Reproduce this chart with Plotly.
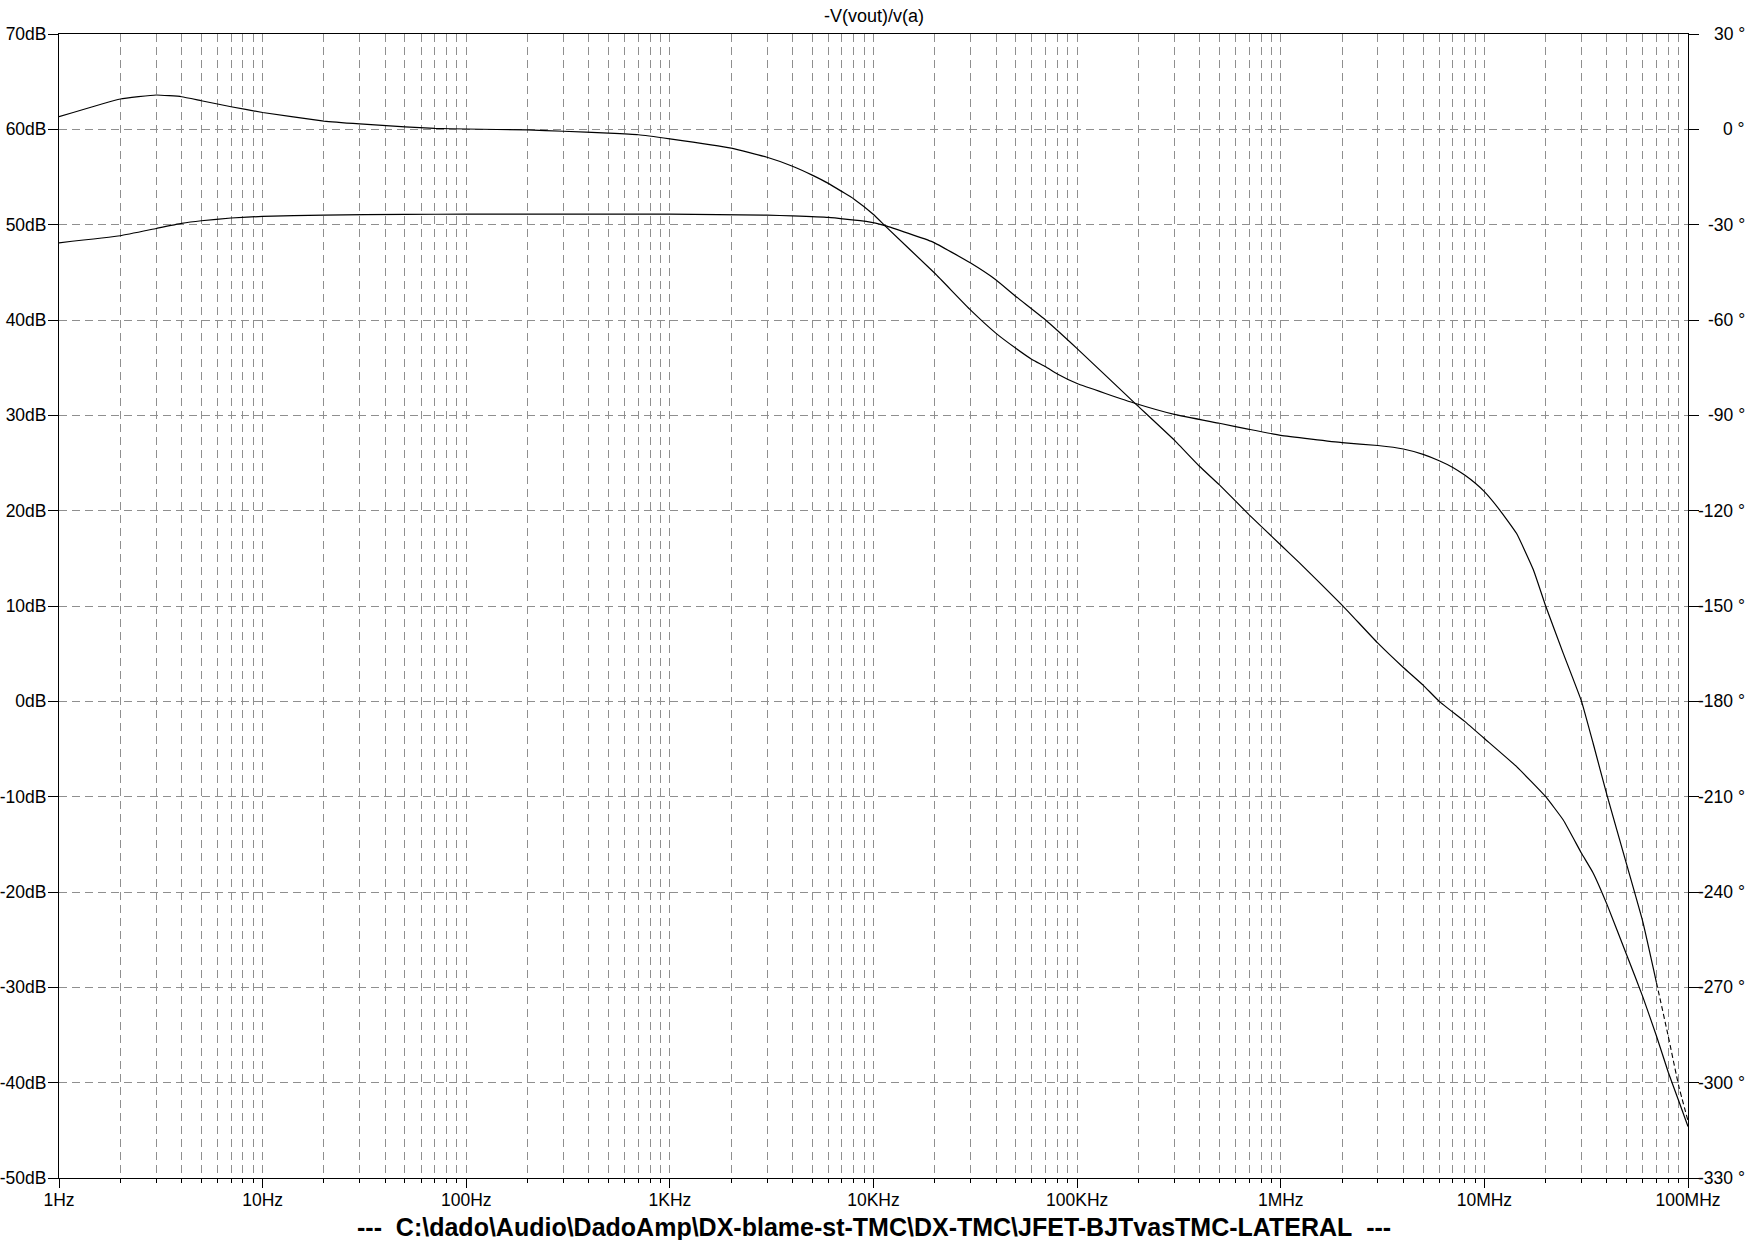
import numpy as np
import plotly.graph_objects as go

# ---------------- data ----------------
mag_freq = [1, 2, 3, 4, 5, 7, 10, 20, 50, 100, 1e3, 3e3, 4e3, 6e3, 9.2e3, 11.4e3,
            19.5e3, 30e3, 40e3, 50e3, 70e3, 100e3, 192e3, 300e3, 400e3, 500e3, 700e3,
            1e6, 1.24e6, 2e6, 3e6, 4e6, 5e6, 6e6, 8e6, 10e6, 14.4e6, 20e6, 24.4e6,
            30e6, 34.2e6, 40e6, 50e6, 60e6, 70e6, 80e6, 90e6, 100e6]
mag_db = [48.1, 48.84, 49.6, 50.13, 50.41, 50.7, 50.87, 51.0, 51.08, 51.1, 51.1, 51.0,
          50.92, 50.76, 50.34, 49.9, 48.2, 45.97, 44.2, 42.47, 40.0, 37.0, 31.28, 27.4,
          24.63, 22.7, 19.56, 16.4, 14.5, 10.1, 6.1, 3.55, 1.7, 0.0, -2.1, -3.9, -6.85,
          -10.0, -12.45, -15.94, -18.0, -21.3, -26.6, -31.0, -35.1, -38.9, -41.9, -44.6]

phase_freq = [1, 2, 3, 4, 5, 7, 10, 20, 30, 50, 70, 100, 200, 300, 500, 700, 1e3, 2e3,
              3e3, 4e3, 5e3, 6e3, 7e3, 8e3, 10e3, 11.4e3, 20e3, 30e3, 40e3, 50e3, 60e3,
              70e3, 80e3, 100e3, 192e3, 300e3, 500e3, 700e3, 1e6, 2e6, 3e6, 4e6, 5e6,
              6e6, 7e6, 8e6, 9e6, 10e6, 11.9e6, 14.4e6, 17.4e6, 20e6, 24.4e6, 30e6,
              34.2e6, 40e6, 50e6, 60e6, 70e6, 80e6, 90e6, 100e6]
phase_deg = [3.96, 9.54, 10.8, 10.26, 9.0, 7.1, 5.3, 2.6, 1.7, 0.8, 0.3, 0.1, -0.2, -0.6,
             -1.2, -1.7, -3.0, -5.9, -8.8, -11.6, -14.4, -17.0, -19.6, -21.9, -26.8,
             -30.4, -45.3, -56.9, -64.2, -68.9, -72.4, -74.7, -77.0, -80.0, -86.2, -89.7,
             -92.5, -94.4, -96.3, -98.6, -99.5, -100.6, -102.3, -104.3, -106.4, -108.8,
             -111.3, -114.0, -119.8, -127.2, -138.6, -150.0, -164.9, -180.0, -193.2,
             -209.5, -231.4, -249.4, -268.5, -285.4, -301.0, -312.0]

x_tickvals = [1, 10, 100, 1e3, 1e4, 1e5, 1e6, 1e7, 1e8]
x_ticktext = ["1Hz", "10Hz", "100Hz", "1KHz", "10KHz", "100KHz", "1MHz", "10MHz", "100MHz"]
db_ticks = [70, 60, 50, 40, 30, 20, 10, 0, -10, -20, -30, -40, -50]
deg_ticks = [30, 0, -30, -60, -90, -120, -150, -180, -210, -240, -270, -300, -330]

title_text = "-V(vout)/v(a)"
caption_text = "---  C:\\dado\\Audio\\DadoAmp\\DX-blame-st-TMC\\DX-TMC\\JFET-BJTvasTMC-LATERAL  ---"

DASH_FROM = 70e6  # phase trace drawn dashed where LTspice points get sparse

# ---------------- figure ----------------
FONT = "Liberation Sans, Arial, Helvetica, sans-serif"
GRID = "#8f8f8f"
TICK_SIZE = 17.5

fig = go.Figure()

fig.add_trace(go.Scatter(
    x=mag_freq, y=mag_db, mode="lines", yaxis="y",
    line=dict(color="black", width=1.2, shape="spline", smoothing=0.35),
    hoverinfo="skip", showlegend=False))

ph_solid_f = [f for f in phase_freq if f <= DASH_FROM]
ph_solid_v = [v for f, v in zip(phase_freq, phase_deg) if f <= DASH_FROM]
ph_dash_f = [f for f in phase_freq if f >= DASH_FROM]
ph_dash_v = [v for f, v in zip(phase_freq, phase_deg) if f >= DASH_FROM]

fig.add_trace(go.Scatter(
    x=ph_solid_f, y=ph_solid_v, mode="lines", yaxis="y2",
    line=dict(color="black", width=1.2, shape="spline", smoothing=0.35),
    hoverinfo="skip", showlegend=False))
fig.add_trace(go.Scatter(
    x=ph_dash_f, y=ph_dash_v, mode="lines", yaxis="y2",
    line=dict(color="black", width=1.1, dash="5px,3px", shape="spline", smoothing=0.35),
    hoverinfo="skip", showlegend=False))

minor_vals = [d * m for d in [1, 10, 100, 1e3, 1e4, 1e5, 1e6, 1e7] for m in range(2, 10)]

fig.update_layout(
    template="none",
    width=1754, height=1240,
    margin=dict(l=59, r=66, t=34, b=62, pad=0, autoexpand=False),
    paper_bgcolor="white", plot_bgcolor="white",
    font=dict(family=FONT, size=TICK_SIZE, color="black"),
    xaxis=dict(
        type="log", range=[0, 8], automargin=False,
        tickmode="array", tickvals=x_tickvals, ticktext=x_ticktext,
        ticks="outside", ticklen=9, tickwidth=1, tickcolor="black",
        ticklabelstandoff=-3,
        showgrid=True, gridcolor=GRID, gridwidth=1, griddash="8px,5px",
        minor=dict(tickmode="array", tickvals=minor_vals, ticks="outside", ticklen=4,
                   tickcolor="black", showgrid=True, gridcolor=GRID, gridwidth=1,
                   griddash="8px,5px"),
        showline=True, linecolor="black", linewidth=1, mirror=True,
        zeroline=False, tickfont=dict(family=FONT, size=TICK_SIZE, color="black"),
    ),
    yaxis=dict(
        range=[-50, 70], automargin=False, tickmode="array", tickvals=db_ticks,
        ticktext=[f"{v}dB" for v in db_ticks],
        ticks="outside", ticklen=10, tickwidth=1, tickcolor="black",
        ticklabelstandoff=-2,
        showgrid=True, gridcolor=GRID, gridwidth=1, griddash="8px,5px",
        showline=True, linecolor="black", linewidth=1, mirror=True,
        zeroline=False, tickfont=dict(family=FONT, size=TICK_SIZE, color="black"),
    ),
    yaxis2=dict(
        range=[-330, 30], automargin=False, overlaying="y", side="right",
        tickmode="array", tickvals=deg_ticks, ticktext=["" for _ in deg_ticks],
        ticks="outside", ticklen=10, tickwidth=1, tickcolor="black",
        showgrid=False, showline=True, linecolor="black", linewidth=1,
        zeroline=False,
    ),
)

annotations = []
for v in deg_ticks:
    annotations.append(dict(
        xref="paper", x=1, xshift=59, xanchor="right",
        yref="y2", y=v, yanchor="middle",
        text=f"{v} °", showarrow=False,
        font=dict(family=FONT, size=TICK_SIZE, color="black")))
annotations.append(dict(
    xref="paper", x=0.5, yref="paper", y=1, yshift=18, yanchor="middle",
    text=title_text, showarrow=False,
    font=dict(family=FONT, size=18, color="black")))
annotations.append(dict(
    xref="paper", x=0.5, yref="paper", y=0, yshift=-49, yanchor="middle",
    text="<b>" + caption_text.replace("  ", "&nbsp; ") + "</b>", showarrow=False,
    font=dict(family=FONT, size=25, color="black")))
fig.update_layout(annotations=annotations)

fig.write_html("out.html", include_plotlyjs=True,
               config={"displayModeBar": False},
               post_script="document.body.style.margin='0px';document.body.style.overflow='hidden';")
